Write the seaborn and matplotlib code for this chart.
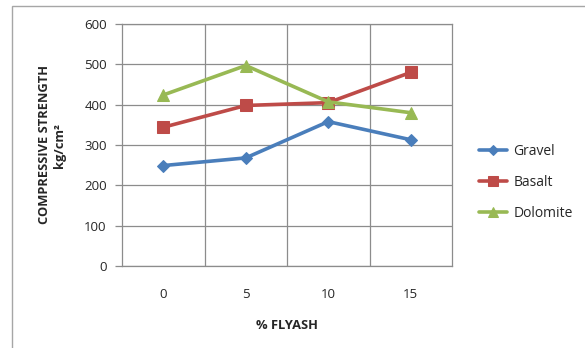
import matplotlib
matplotlib.use("Agg")
import matplotlib.pyplot as plt
from matplotlib.patches import Rectangle
import seaborn as sns
import pandas as pd
import numpy as np

# Compressive strength (kg/cm²) against fly ash replacement
flyash_pct = ["0", "5", "10", "15"]
gravel = [249, 268, 358, 313]
basalt = [344, 398, 405, 480]
dolomite = [424, 497, 407, 380]
series_names = ["Gravel", "Basalt", "Dolomite"]
y_ticks = [0, 100, 200, 300, 400, 500, 600]

colors = {"Gravel": "#4A7EBB", "Basalt": "#BE4B48", "Dolomite": "#98B954"}
markers = {"Gravel": "D", "Basalt": "s", "Dolomite": "^"}
msizes = {"Gravel": 6.5, "Basalt": 8, "Dolomite": 8.5}

sns.set_style("white")
plt.rcParams["font.family"] = ["Open Sans", "DejaVu Sans"]

pos = np.arange(len(flyash_pct))
frames = []
for name, vals in zip(series_names, [gravel, basalt, dolomite]):
    frames.append(pd.DataFrame({"pos": pos, "strength": vals, "material": name}))
df = pd.concat(frames, ignore_index=True)

fig = plt.figure(figsize=(5.85, 3.48), dpi=100)
fig.patches.append(Rectangle((12 / 585, -0.1), 1.2, (348 - 6) / 348 + 0.1,
                             transform=fig.transFigure, fill=False,
                             edgecolor="#a6a6a6", linewidth=1.0))
ax = fig.add_axes([122 / 585, (348 - 266) / 348, 330 / 585, 242 / 348])

for name in series_names:
    sub = df[df["material"] == name]
    sns.lineplot(data=sub, x="pos", y="strength", ax=ax, color=colors[name],
                 marker=markers[name], markersize=msizes[name],
                 markeredgecolor=colors[name], linewidth=2.6, label=name,
                 zorder=3)

grid_c = "#8c8c8c"
ax.set_xlim(-0.5, len(flyash_pct) - 0.5)
ax.set_ylim(0, 600)
ax.set_yticks(y_ticks)
ax.set_xticks(pos)
ax.set_xticklabels(flyash_pct)
ax.set_xticks(pos[:-1] + 0.5, minor=True)
ax.grid(axis="y", which="major", color=grid_c, linewidth=0.9)
ax.grid(axis="x", which="minor", color=grid_c, linewidth=0.9)
ax.grid(axis="x", which="major", visible=False)
for s in ax.spines.values():
    s.set_color(grid_c)
    s.set_linewidth(0.9)
    s.set_visible(True)
ax.tick_params(axis="y", which="major", length=5, color=grid_c, width=0.9,
               labelsize=9.5, pad=6, left=True)
ax.tick_params(axis="x", which="both", length=0, labelsize=9.5, pad=16)

ax.set_xlabel("% FLYASH", fontsize=9.3, fontweight="bold", labelpad=13)
ax.set_ylabel("COMPRESSIVE STRENGTH\nkg/cm²", fontsize=9.3,
              fontweight="bold", labelpad=13, linespacing=1.25)

ax.legend(loc="center left", bbox_to_anchor=(1.045, 0.345), frameon=False,
          fontsize=10, handlelength=2.0, labelspacing=1.15, handletextpad=0.45,
          markerscale=0.85)

fig.savefig("out.png", dpi=100)
